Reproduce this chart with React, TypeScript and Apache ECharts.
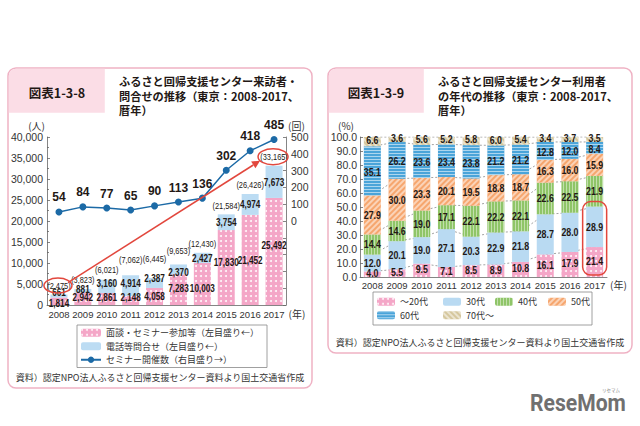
import React, { useEffect, useRef } from "react";
import * as echarts from "echarts";

// ---------- 図表1-3-8 data ----------
const years = ["2008", "2009", "2010", "2011", "2012", "2013", "2014", "2015", "2016", "2017"];
const interviewSeminar = [1814, 2942, 2861, 2148, 4058, 7283, 10003, 17830, 21452, 25492];
const phoneInquiry = [661, 881, 3160, 4914, 2387, 2370, 2427, 3754, 4974, 7673];
const visitorTotals = [2475, 3823, 6021, 7062, 6445, 9653, 12430, 21584, 26426, 33165];
const seminarsHeld = [54, 84, 77, 65, 90, 113, 136, 302, 418, 485];

// ---------- 図表1-3-9 data ----------
const ageGroups = ["～20代", "30代", "40代", "50代", "60代", "70代～"];
const ageUnder20s = [4.0, 5.5, 9.5, 7.1, 8.5, 8.9, 10.8, 16.1, 17.9, 21.4];
const age30s = [12.0, 20.1, 19.0, 27.1, 20.3, 22.9, 21.8, 28.7, 28.0, 28.9];
const age40s = [14.4, 14.6, 19.0, 17.1, 22.1, 22.2, 22.1, 22.6, 22.5, 21.9];
const age50s = [27.9, 30.0, 23.3, 20.1, 19.5, 18.8, 18.7, 16.3, 16.0, 15.9];
const age60s = [35.1, 26.2, 23.6, 23.4, 23.8, 21.2, 21.2, 12.8, 12.0, 8.4];
const age70plus = [6.6, 3.6, 5.6, 5.2, 5.8, 6.0, 5.4, 3.4, 3.7, 3.5];

// label nudges in pixels (style only)
const interviewNudge = [2, -2, -2, -3, 0, -2, 4, -5, 0, -6];
const phoneNudge = [-4, -2, -3, -3, -5, 3, 0, 0, 0, 0];
const totalNudge = [0, 0, -1, -7, -10, -5, 0, 0, 0, 0];
const ageNudge = [-1, 0, 0, 0, 1, -1.5];

const fontJP = "'Noto Sans CJK JP', 'Noto Sans', sans-serif";
const fontNum = "'Liberation Sans', Arial, sans-serif";
const ink = "#231815";

const pink = "#f4a6c7";
const lightBlue = "#bcdcf3";
const lineBlue = "#1c6aa6";
const red = "#e2473d";

const dotDecal = {
  symbol: "circle",
  symbolSize: 1,
  color: "rgba(255,255,255,0.9)",
  dashArrayX: [[2, 3]],
  dashArrayY: [2, 2.5],
};
const stripe = (color: string, rotation: number, w = 1, gap = 2) => ({
  symbol: "rect",
  symbolSize: 1,
  color,
  dashArrayX: [1, 0],
  dashArrayY: [w, gap],
  rotation,
});

const ageColors = ["#f4a6c7", "#b9daf2", "#8fc568", "#f6a66e", "#4aa4d9", "#d5c79e"];
const ageDecals: any[] = [
  dotDecal,
  null,
  stripe("rgba(255,255,255,0.45)", Math.PI / 2, 1, 2),
  stripe("rgba(255,255,255,0.5)", -Math.PI / 4, 1.2, 1.8),
  stripe("rgba(255,255,255,0.55)", 0, 1, 2),
  stripe("rgba(255,255,255,0.5)", Math.PI / 4, 1.2, 1.8),
];
const ageData = [ageUnder20s, age30s, age40s, age50s, age60s, age70plus];

const fmt = (n: number) => String(n).replace(/\B(?=(\d{3})+(?!\d))/g, ",");

// condensed number text used by the custom label series
const numText = (x: number, y: number, text: string, size: number, weight: string, sx = 0.8) => ({
  type: "text",
  x,
  y,
  scaleX: sx,
  silent: true,
  style: {
    text,
    fill: ink,
    fontSize: size,
    fontWeight: weight,
    fontFamily: fontNum,
    align: "center",
    verticalAlign: "middle",
  },
});

function buildOption(): any {
  const axisLine = { show: true, lineStyle: { color: "#666", width: 0.8 } };
  const tickIn = { show: true, inside: true, length: 3, lineStyle: { color: "#666", width: 0.8 } };
  const lblStyle = { fontSize: 10.5, color: "#333", fontFamily: fontNum };
  const xLblStyle = { fontSize: 9.5, color: "#333", fontFamily: fontNum };

  const leftSeriesNames = [
    "面談・セミナー参加等（左目盛り←）",
    "電話等問合せ（左目盛り←）",
    "セミナー開催数（右目盛り→）",
  ];

  const series: any[] = [
    {
      name: leftSeriesNames[0],
      type: "bar",
      stack: "L",
      xAxisIndex: 0,
      yAxisIndex: 0,
      barWidth: 17,
      itemStyle: { color: pink, decal: dotDecal },
      data: interviewSeminar,
    },
    {
      name: leftSeriesNames[1],
      type: "bar",
      stack: "L",
      xAxisIndex: 0,
      yAxisIndex: 0,
      barWidth: 17,
      itemStyle: { color: lightBlue },
      data: phoneInquiry,
    },
    {
      name: leftSeriesNames[2],
      type: "line",
      xAxisIndex: 0,
      yAxisIndex: 1,
      data: seminarsHeld,
      symbol: "circle",
      symbolSize: 7,
      itemStyle: { color: lineBlue },
      lineStyle: { color: lineBlue, width: 1.5 },
      z: 4,
      label: {
        show: true,
        position: "top",
        distance: 5,
        fontSize: 12,
        fontWeight: "bold",
        color: ink,
        fontFamily: fontNum,
      },
    },
    {
      name: "leftLabels",
      type: "custom",
      xAxisIndex: 0,
      yAxisIndex: 0,
      silent: true,
      z: 6,
      encode: { x: 0, y: 3 },
      data: years.map((_, i) => [i, interviewSeminar[i], phoneInquiry[i], visitorTotals[i]]),
      renderItem: (params: any, api: any) => {
        const i = api.value(0);
        const a = api.value(1);
        const b = api.value(2);
        const t = api.value(3);
        const pA = api.coord([i, a / 2]);
        const pB = api.coord([i, a + b / 2]);
        const pT = api.coord([i, t]);
        return {
          type: "group",
          children: [
            numText(pA[0], pA[1] + interviewNudge[i], fmt(a), 10.5, "bold", 0.78),
            numText(pB[0], pB[1] + phoneNudge[i], fmt(b), 10.5, "bold", 0.78),
            numText(pT[0], pT[1] - 9 + totalNudge[i], "(" + fmt(t) + ")", 9.5, "normal", 0.78),
          ],
        };
      },
    },
  ];

  // right chart: dotted connectors (stacked lines drawn under the bars)
  ageData.forEach((arr, k) => {
    series.push({
      name: "conn" + k,
      type: "line",
      stack: "C",
      xAxisIndex: 1,
      yAxisIndex: 2,
      data: arr,
      symbol: "none",
      silent: true,
      z: 1,
      lineStyle: { color: "#8c8c8c", width: 0.8, type: [2, 2] },
    });
  });
  ageData.forEach((arr, k) => {
    series.push({
      name: ageGroups[k],
      type: "bar",
      stack: "R",
      xAxisIndex: 1,
      yAxisIndex: 2,
      barWidth: 17,
      z: 3,
      data: arr,
      itemStyle: ageDecals[k] ? { color: ageColors[k], decal: ageDecals[k] } : { color: ageColors[k] },
    });
  });
  series.push({
    name: "rightLabels",
    type: "custom",
    xAxisIndex: 1,
    yAxisIndex: 2,
    silent: true,
    z: 6,
    encode: { x: 0, y: 1 },
    data: years.map((_, i) => [i, ...ageData.map((a) => a[i])]),
    renderItem: (params: any, api: any) => {
      const i = api.value(0);
      let cum = 0;
      const children: any[] = [];
      for (let k = 0; k < ageData.length; k++) {
        const v = api.value(k + 1);
        const p = api.coord([i, cum + v / 2]);
        cum += v;
        children.push(numText(p[0], p[1] + ageNudge[k], Number(v).toFixed(1), 11, "bold", 0.8));
      }
      return { type: "group", children };
    },
  });

  const legendText = { fontSize: 9, color: "#333", fontFamily: fontJP, lineHeight: 13.5 };
  const colLegend = (left: number, names: string[]) => ({
    orient: "vertical",
    left,
    top: 295,
    padding: 0,
    itemGap: 0,
    itemWidth: 18,
    itemHeight: 8,
    selectedMode: false,
    textStyle: legendText,
    data: names,
  });

  return {
    animation: false,
    backgroundColor: "#ffffff",
    textStyle: { fontFamily: fontJP },
    grid: [
      { left: 47, right: 354, top: 137, bottom: 121, containLabel: false },
      { left: 360, right: 33, top: 137, bottom: 149, containLabel: false },
    ],
    xAxis: [
      {
        type: "category",
        gridIndex: 0,
        data: years,
        axisLine,
        axisTick: { show: false },
        axisLabel: { ...xLblStyle, margin: 4, interval: 0 },
        name: "(年)",
        nameLocation: "end",
        nameGap: 2,
        nameTextStyle: { fontSize: 10, color: "#333", fontFamily: fontJP, verticalAlign: "top", padding: [4, 0, 0, 0] },
      },
      {
        type: "category",
        gridIndex: 1,
        data: years,
        axisLine,
        axisTick: { show: false },
        axisLabel: { ...xLblStyle, margin: 3, interval: 0 },
        name: "(年)",
        nameLocation: "end",
        nameGap: 3,
        nameTextStyle: { fontSize: 10, color: "#333", fontFamily: fontJP, verticalAlign: "top", padding: [2, 0, 0, 0] },
      },
    ],
    yAxis: [
      {
        type: "value",
        gridIndex: 0,
        min: 0,
        max: 40000,
        interval: 5000,
        axisLine,
        axisTick: tickIn,
        minorTick: { show: true, splitNumber: 2, length: 2, lineStyle: { color: "#666", width: 0.8 } },
        splitLine: { show: false },
        axisLabel: { ...lblStyle, margin: 4, formatter: (v: number) => fmt(v) },
        name: "(人)",
        nameLocation: "end",
        nameGap: 7,
        nameTextStyle: { fontSize: 10, color: "#333", fontFamily: fontJP, align: "right", padding: [0, 2, 0, 0] },
      },
      {
        type: "value",
        gridIndex: 0,
        position: "right",
        min: -500,
        max: 500,
        interval: 100,
        axisLine,
        axisTick: tickIn,
        splitLine: { show: false },
        axisLabel: { ...lblStyle, margin: 5, formatter: (v: number) => (v < 0 ? "" : String(v)) },
        name: "(回)",
        nameLocation: "end",
        nameGap: 7,
        nameTextStyle: { fontSize: 10, color: "#333", fontFamily: fontJP, align: "left", padding: [0, 0, 0, 2] },
      },
      {
        type: "value",
        gridIndex: 1,
        min: 0,
        max: 100,
        interval: 10,
        axisLine,
        axisTick: tickIn,
        splitLine: { show: false },
        axisLabel: { ...lblStyle, margin: 3, formatter: (v: number) => v.toFixed(1) },
        name: "(%)",
        nameLocation: "end",
        nameGap: 7,
        nameTextStyle: { fontSize: 10, color: "#333", fontFamily: fontJP, align: "right", padding: [0, 6, 0, 0] },
      },
    ],
    legend: [
      {
        orient: "vertical",
        left: 77,
        top: 325,
        padding: [1, 8, 1, 3],
        itemGap: 0,
        itemWidth: 20,
        itemHeight: 8,
        borderColor: "#888",
        borderWidth: 0.8,
        backgroundColor: "#fff",
        selectedMode: false,
        textStyle: legendText,
        data: leftSeriesNames,
      },
      colLegend(377, [ageGroups[0], ageGroups[4]]),
      colLegend(443, [ageGroups[1], ageGroups[5]]),
      colLegend(495, [ageGroups[2]]),
      colLegend(548, [ageGroups[3]]),
    ],
    series,
  };
}

function buildGraphics(chart: any): any[] {
  const g: any[] = [];
  const panel = (x: number, y: number, w: number, h: number) => ({
    type: "rect",
    z: -10,
    shape: { x, y, width: w, height: h, r: 8 },
    style: { fill: "#fff", stroke: "#efb2c4", lineWidth: 1.5 },
  });
  const header = (x: number, y: number, w: number, h: number) => ({
    type: "rect",
    z: -9,
    shape: { x, y, width: w, height: h, r: [7, 0, 0, 0] },
    style: { fill: "#fbdde6" },
  });
  const txt = (x: number, y: number, text: string, extra: any = {}) => ({
    type: "text",
    z: 10,
    x,
    y,
    style: { text, fill: ink, fontFamily: fontJP, fontSize: 12, ...extra },
  });
  const titleLines = (x: number, lines: string[]) =>
    lines.forEach((line, i) =>
      g.push(txt(x, 81 + i * 14.5, line, { fontSize: 11.2, fontWeight: "bold", verticalAlign: "middle" }))
    );

  g.push(panel(8, 68, 304, 320));
  g.push(panel(328, 68, 304, 285));
  g.push(header(8.8, 68.8, 96, 44));
  g.push(header(328.8, 68.8, 95, 44));
  g.push(txt(57, 92, "図表1-3-8", { fontSize: 12.5, fontWeight: "bold", align: "center", verticalAlign: "middle" }));
  g.push(txt(376, 92, "図表1-3-9", { fontSize: 12.5, fontWeight: "bold", align: "center", verticalAlign: "middle" }));
  titleLines(119, ["ふるさと回帰支援センター来訪者・", "問合せの推移（東京：2008-2017、", "暦年）"]);
  titleLines(438, ["ふるさと回帰支援センター利用者", "の年代の推移（東京：2008-2017、", "暦年）"]);
  g.push(
    txt(160, 377, "資料）認定NPO法人ふるさと回帰支援センター資料より国土交通省作成", {
      fontSize: 9,
      fill: "#333",
      align: "center",
      verticalAlign: "middle",
    })
  );
  g.push(
    txt(480, 342, "資料）認定NPO法人ふるさと回帰支援センター資料より国土交通省作成", {
      fontSize: 9,
      fill: "#333",
      align: "center",
      verticalAlign: "middle",
    })
  );
  // right legend box
  g.push({
    type: "rect",
    z: -5,
    shape: { x: 373, y: 292, width: 219, height: 33 },
    style: { fill: "#fff", stroke: "#888", lineWidth: 0.8 },
  });

  // annotations placed from data positions
  const p1 = chart.convertToPixel({ xAxisIndex: 0, yAxisIndex: 0 }, [0, visitorTotals[0]]);
  const p2 = chart.convertToPixel({ xAxisIndex: 0, yAxisIndex: 0 }, [9, visitorTotals[9]]);
  if (p1 && p2) {
    const e1 = { cx: p1[0] - 1, cy: p1[1] - 9 };
    const e2 = { cx: p2[0] - 1, cy: p2[1] - 9 };
    g.push({ type: "ellipse", z: 100, shape: { cx: e1.cx, cy: e1.cy, rx: 14, ry: 7.5 }, style: { fill: "none", stroke: red, lineWidth: 1.5 } });
    g.push({ type: "ellipse", z: 100, shape: { cx: e2.cx, cy: e2.cy, rx: 15, ry: 8 }, style: { fill: "none", stroke: red, lineWidth: 1.5 } });
    const sx = e1.cx + 10, sy = e1.cy - 3;
    const ex = e2.cx - 13, ey = e2.cy + 4;
    const ang = Math.atan2(ey - sy, ex - sx);
    const L = 8, W = 4;
    const bx = ex - L * Math.cos(ang), by = ey - L * Math.sin(ang);
    g.push({ type: "line", z: 100, shape: { x1: sx, y1: sy, x2: bx, y2: by }, style: { stroke: red, lineWidth: 1.5 } });
    g.push({
      type: "polygon",
      z: 100,
      shape: {
        points: [
          [ex, ey],
          [bx + W * Math.sin(ang), by - W * Math.cos(ang)],
          [bx - W * Math.sin(ang), by + W * Math.cos(ang)],
        ],
      },
      style: { fill: red },
    });
  }
  const q0 = chart.convertToPixel({ xAxisIndex: 1, yAxisIndex: 2 }, [9, 0]);
  const q1 = chart.convertToPixel({ xAxisIndex: 1, yAxisIndex: 2 }, [9, ageUnder20s[9] + age30s[9]]);
  if (q0 && q1) {
    g.push({
      type: "rect",
      z: 100,
      shape: { x: q0[0] - 12, y: q1[1] - 5, width: 24, height: q0[1] - q1[1] + 3, r: 8 },
      style: { fill: "none", stroke: red, lineWidth: 1.5 },
    });
  }

  // ReseMom logo
  g.push({
    type: "text",
    z: 10,
    x: 530,
    y: 403,
    scaleX: 0.88,
    style: { text: "ReseMom", fill: "#707070", fontFamily: "Roboto, 'DejaVu Sans', sans-serif", fontWeight: "bold", fontSize: 24, verticalAlign: "middle" },
  });
  g.push(txt(611, 390, "リセマム", { fontSize: 4.5, fill: "#888", align: "center", verticalAlign: "middle" }));
  return g;
}

export default function App() {
  const ref = useRef<HTMLDivElement>(null);
  useEffect(() => {
    if (!ref.current) return;
    const chart = echarts.init(ref.current, undefined, { renderer: "svg" });
    chart.setOption(buildOption());
    chart.setOption({ graphic: buildGraphics(chart) });
    return () => chart.dispose();
  }, []);
  return (
    <div
      ref={ref}
      style={{ position: "absolute", left: 0, top: 0, width: 640, height: 426, background: "#fff" }}
    />
  );
}
